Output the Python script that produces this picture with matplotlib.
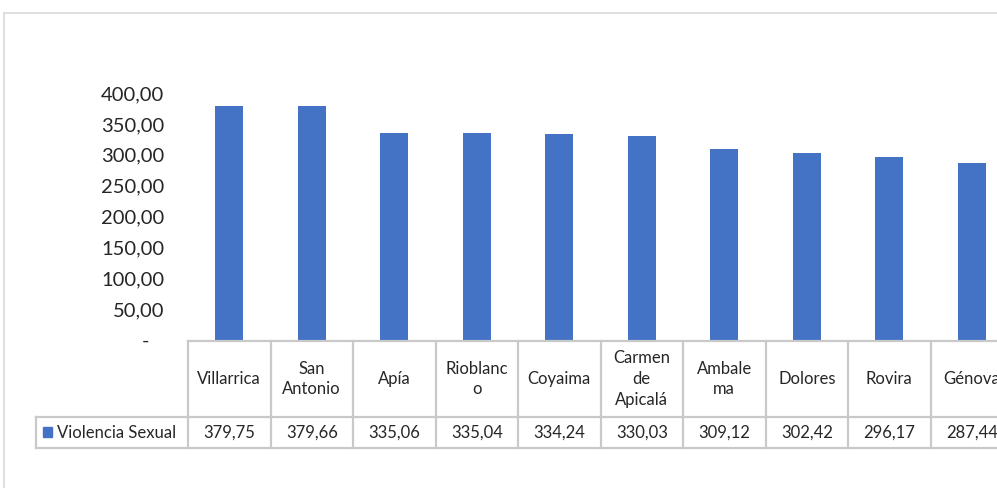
import matplotlib
matplotlib.use("Agg")
import matplotlib.pyplot as plt
import matplotlib.transforms as mtransforms
from matplotlib.patches import Rectangle
from matplotlib.lines import Line2D

# data
municipios = ["Villarrica", "San\nAntonio", "Apía", "Rioblanc\no", "Coyaima",
              "Carmen\nde\nApicalá", "Ambale\nma", "Dolores", "Rovira", "Génova"]
violencia_sexual = [379.75, 379.66, 335.06, 335.04, 334.24,
                    330.03, 309.12, 302.42, 296.17, 287.44]
serie = "Violencia Sexual"
y_ticks = [0, 50, 100, 150, 200, 250, 300, 350, 400]

BAR_COLOR = "#4472C4"
GRID = "#C9C9C9"
TXT = "#262626"
FONT = "Lato"

W, H = 997, 488
fig = plt.figure(figsize=(W / 100, H / 100), dpi=100)
plt.rcParams["font.family"] = [FONT, "DejaVu Sans"]


def fx(px):
    return px / W


def fy(py):
    return 1 - py / H


# outer chart frame (only top and left visible, rest cropped)
fig.add_artist(Line2D([fx(4), fx(4)], [fy(13), fy(490)], color="#D9D9D9", lw=1.2))
fig.add_artist(Line2D([fx(4), fx(1000)], [fy(13), fy(13)], color="#D9D9D9", lw=1.2))

# bar axes
n = len(municipios)
col_w = 82.5
left_px = 188
right_px = left_px + n * col_w
ax = fig.add_axes([fx(left_px), fy(340), fx(right_px - left_px), (340 - 93) / H])
x = list(range(n))
ax.bar(x, violencia_sexual, width=0.34, color=BAR_COLOR)
ax.set_xlim(-0.5, n - 0.5)
ax.set_ylim(0, 400)
ax.set_yticks(y_ticks)
ax.set_yticklabels(["-   " if v == 0 else f"{v:.2f}".replace(".", ",") for v in y_ticks])
ax.tick_params(axis="y", length=0, pad=17, labelsize=14.5, labelcolor=TXT)
ax.set_xticks([])
for s in ax.spines.values():
    s.set_visible(False)

# data table below
tab_top, tab_mid, tab_bot = 341, 417, 448
legend_left = 36
tab = fig.add_axes([fx(legend_left), fy(tab_bot), fx(right_px - legend_left), (tab_bot - tab_top) / H])
x0 = -0.5 - (left_px - legend_left) / col_w
tab.set_xlim(x0, n - 0.5)
tab.set_ylim(tab_bot, tab_top)
tab.axis("off")

lw = 1.6
# horizontal lines
tab.plot([-0.5, n - 0.5], [tab_top, tab_top], color=GRID, lw=lw, clip_on=False)
tab.plot([x0, n - 0.5], [tab_mid, tab_mid], color=GRID, lw=lw, clip_on=False)
tab.plot([x0, n - 0.5], [tab_bot, tab_bot], color=GRID, lw=lw, clip_on=False)
# vertical lines
tab.plot([x0, x0], [tab_mid, tab_bot], color=GRID, lw=lw, clip_on=False)
for i in range(n + 1):
    tab.plot([i - 0.5, i - 0.5], [tab_top, tab_bot], color=GRID, lw=lw, clip_on=False)

for i, (name, val) in enumerate(zip(municipios, violencia_sexual)):
    tab.text(i, (tab_top + tab_mid) / 2, name, ha="center", va="center",
             fontsize=12, color=TXT, linespacing=1.35)
    tab.text(i, (tab_mid + tab_bot) / 2, f"{val:.2f}".replace(".", ","),
             ha="center", va="center", fontsize=12, color=TXT)

# legend key in the table
key_w = 9 / col_w
tab.add_patch(Rectangle((x0 + 7 / col_w, 427), key_w, 10, color=BAR_COLOR, clip_on=False))
tab.text(x0 + 21 / col_w, (tab_mid + tab_bot) / 2, serie, ha="left", va="center",
         fontsize=12, color=TXT)

fig.savefig("out.png", dpi=100)
